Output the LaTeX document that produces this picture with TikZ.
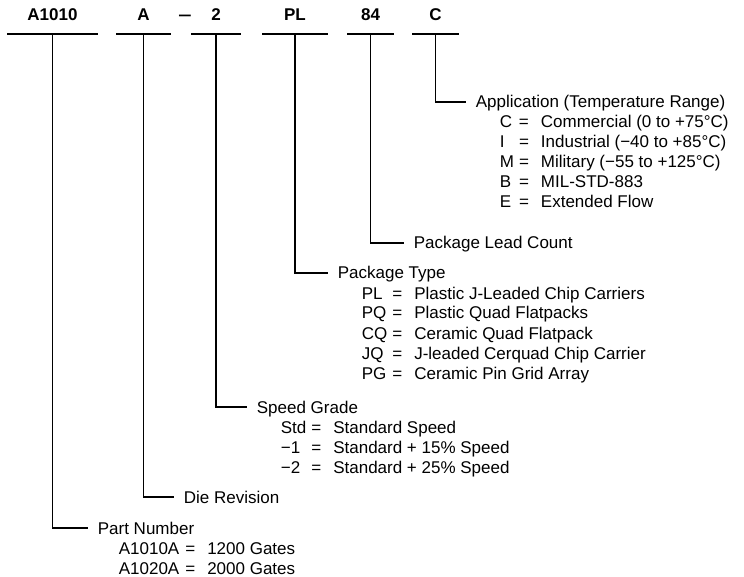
\documentclass[tikz,border=0pt]{standalone}
\usepackage{fontspec}
\setmainfont{Liberation Sans}
\tikzset{
  code/.style={font=\fontsize{17}{20}\selectfont\bfseries, inner sep=0pt, anchor=base, text depth=12pt, minimum width=#1},
  title/.style={anchor=west, inner sep=0pt, text height=12pt, text depth=0pt},
  items/.style={anchor=base west, inner sep=0pt},
  lead/.style={shorten >=9pt},
}
\begin{document}
\begin{tikzpicture}[x=1pt, y=-1pt, line width=1.7pt, font=\fontsize{17}{20}\selectfont]
      \useasboundingbox (0,0) rectangle (744,577);
      \node[code=89pt] (pn) at (52.5,21) {A1010};
      \node[code=53pt] (rev) at (143.5,21) {A};
      \node[code=0pt, text depth=0pt] (dash) at (185,21) {\scalebox{1.4}[1]{--}};
      \node[code=48pt] (spd) at (216,21) {2};
      \node[code=64pt] (pkg) at (295,21) {PL};
      \node[code=45pt] (cnt) at (370.5,21) {84};
      \node[code=45pt] (app) at (435.5,21) {C};
      \node[title] (apptitle) at (475,102) {Application (Temperature Range)};
      \node[items] (applist) at ([shift={(24,20)}]apptitle.base west) {\begin{tabular}[t]{@{}l@{\hspace{5pt}=\hspace{12pt}}l@{}}
        C & Commercial (0 to +75°C)\\
        I & Industrial (−40 to +85°C)\\
        M & Military (−55 to +125°C)\\
        B & MIL-STD-883\\
        E & Extended Flow
      \end{tabular}};
      \node[title] (cnttitle) at (413,243) {Package Lead Count};
      \node[title] (pkgtitle) at (337,273) {Package Type};
      \node[items] (pkglist) at ([shift={(24,20)}]pkgtitle.base west) {\begin{tabular}[t]{@{}l@{\hspace{5pt}=\hspace{12pt}}l@{}}
        PL & Plastic J-Leaded Chip Carriers\\
        PQ & Plastic Quad Flatpacks\\
        CQ & Ceramic Quad Flatpack\\
        JQ & J-leaded Cerquad Chip Carrier\\
        PG & Ceramic Pin Grid Array
      \end{tabular}};
      \node[title] (spdtitle) at (256,407) {Speed Grade};
      \node[items] (spdlist) at ([shift={(24,20)}]spdtitle.base west) {\begin{tabular}[t]{@{}l@{\hspace{5pt}=\hspace{12pt}}l@{}}
        Std & Standard Speed\\
        −1 & Standard + 15\% Speed\\
        −2 & Standard + 25\% Speed
      \end{tabular}};
      \node[title] (revtitle) at (183,497) {Die Revision};
      \node[title] (pntitle) at (97,528) {Part Number};
      \node[items] (pnlist) at ([shift={(21,20)}]pntitle.base west) {\begin{tabular}[t]{@{}l@{\hspace{6pt}=\hspace{12pt}}l@{}}
        A1010A & 1200 Gates\\
        A1020A & 2000 Gates
      \end{tabular}};
      \begin{scope}[-]
        \draw (pn.south west) -- (pn.south east);
        \draw (rev.south west) -- (rev.south east);
        \draw (spd.south west) -- (spd.south east);
        \draw (pkg.south west) -- (pkg.south east);
        \draw (cnt.south west) -- (cnt.south east);
        \draw (app.south west) -- (app.south east);
        \draw[lead] (app.south) |- (apptitle.west);
        \draw[lead] (cnt.south) |- (cnttitle.west);
        \draw[lead] (pkg.south) |- (pkgtitle.west);
        \draw[lead] (spd.south) |- (spdtitle.west);
        \draw[lead] (rev.south) |- (revtitle.west);
        \draw[lead] (pn.south) |- (pntitle.west);
      \end{scope}
    \end{tikzpicture}
\end{document}
